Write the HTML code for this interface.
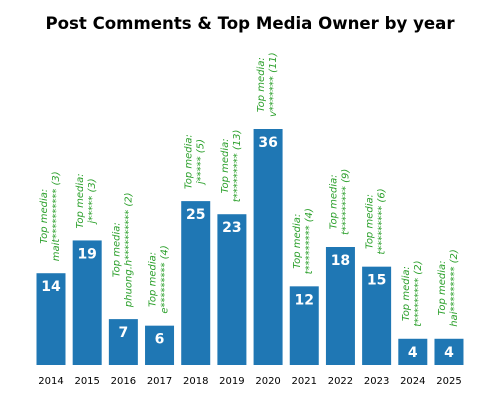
<!DOCTYPE html>
<html><head><meta charset="utf-8"><style>
body{margin:0;background:#fff}
svg{display:block;font-family:"DejaVu Sans","Liberation Sans",sans-serif}
</style></head><body>
<svg id="chart" width="500" height="400">
<text x="250" y="29" text-anchor="middle" font-size="16.6" font-weight="bold" fill="#000">Post Comments &amp; Top Media Owner by year</text>
<g id="bars"></g>
</svg>
<script>
const years = ["2014","2015","2016","2017","2018","2019","2020","2021","2022","2023","2024","2025"];
const comments = [14,19,7,6,25,23,36,12,18,15,4,4];
const topOwners = ["mait**********","j*****","phuong.h**********","e*********","j*****","t*********","v*******","t*********","t*********","t*********","t*********","hai*********"];
const topCounts = [3,3,2,4,5,13,11,4,9,6,2,2];

const NS="http://www.w3.org/2000/svg";
const base=365, unit=236/36, x0=51, step=36.18, bw=29;
const xS=i=>x0+i*step, yS=v=>base-v*unit;
const g=document.getElementById('bars');
function mk(tag,attrs){const e=document.createElementNS(NS,tag);for(const k in attrs)e.setAttribute(k,attrs[k]);return e;}
years.forEach((yr,i)=>{
  const cx=xS(i), top=yS(comments[i]);
  const r=mk('rect',{x:cx-bw/2,y:top,width:bw,height:base-top,fill:'#1f77b4'});
  
  
  g.appendChild(r);
  const v=mk('text',{x:cx,y:top+18,'text-anchor':'middle','font-size':14,'font-weight':'bold',fill:'#fff'});
  v.textContent=comments[i];
  
  
  g.appendChild(v);
  const t=mk('text',{x:cx,y:base+19,'text-anchor':'middle','font-size':10,fill:'#000'});
  t.textContent=yr;
  
  
  g.appendChild(t);
  const l1=mk('text',{'text-anchor':'middle','font-size':10,'font-style':'italic',fill:'#2ca02c'});
  l1.textContent='Top media:';
  
  
  const l2=mk('text',{'text-anchor':'middle','font-size':10,'font-style':'italic',fill:'#2ca02c'});
  l2.textContent=topOwners[i]+' ('+topCounts[i]+')';
  
  
  g.appendChild(l1);g.appendChild(l2);
  const m=Math.max(l1.getComputedTextLength(),l2.getComputedTextLength());
  const cy=top-12-m/2;
  [[l1,cx-4],[l2,cx+8]].forEach(([e,x])=>{
    e.setAttribute('x',x);e.setAttribute('y',cy);
    e.setAttribute('transform','rotate(-90 '+x+' '+cy+')');
  });
});
</script>
</body></html>
